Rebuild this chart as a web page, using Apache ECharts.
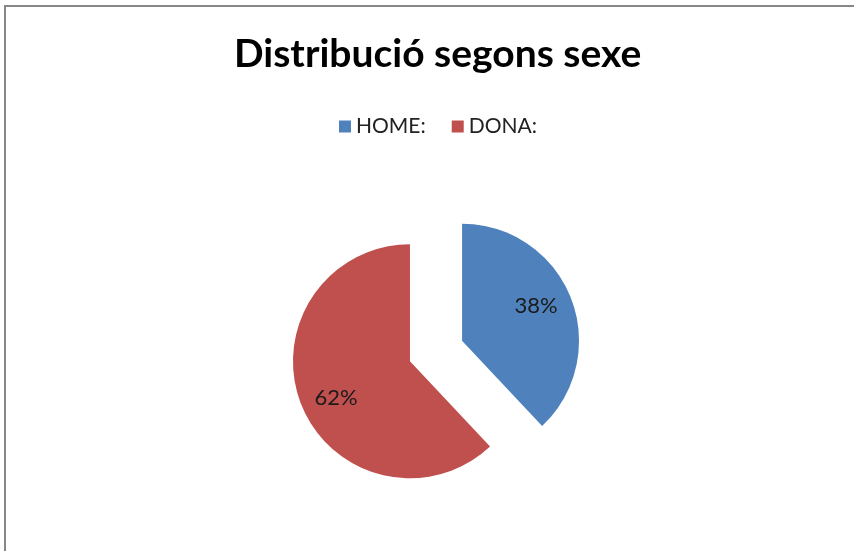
<!DOCTYPE html>
<html>
<head>
<meta charset="utf-8">
<script src="https://cdn.jsdelivr.net/npm/echarts@6/dist/echarts.min.js"></script>
<style>
html,body{margin:0;padding:0;background:#fff;}
#main{width:854px;height:551px;}
</style>
</head>
<body>
<div id="main"></div>
<script>
const titleText = 'Distribució segons sexe';
const categories = ['HOME:', 'DONA:'];
const values = [38, 62];
const colors = ['#4F81BD', '#C0504D'];

const chart = echarts.init(document.getElementById('main'), null, {renderer: 'canvas'});

const pieData = categories.map((name, i) => ({
  name: name,
  value: values[i],
  selected: true,
  itemStyle: {color: colors[i]}
}));

const labelData = categories.map((name, i) => ({
  name: name,
  value: values[i]
}));

chart.setOption({
  animation: false,
  backgroundColor: '#ffffff',
  title: {
    text: titleText,
    left: 234,
    top: 35,
    padding: 0,
    textStyle: {
      fontFamily: 'Lato',
      fontWeight: 'bold',
      fontSize: 39,
      color: '#000000'
    }
  },
  legend: {
    data: categories,
    top: 116,
    left: 339,
    padding: 0,
    icon: 'rect',
    itemWidth: 12,
    itemHeight: 12,
    itemGap: 26,
    selectedMode: false,
    textStyle: {
      fontFamily: 'Lato',
      fontSize: 21,
      color: '#222222'
    }
  },
  graphic: [{
    type: 'rect',
    shape: {x: 5, y: 6, width: 900, height: 600},
    style: {fill: 'none', stroke: '#878787', lineWidth: 2},
    silent: true,
    z: 100
  }],
  series: [
    {
      type: 'pie',
      center: [436, 351],
      radius: [0, 117],
      startAngle: 90,
      clockwise: true,
      selectedMode: 'multiple',
      selectedOffset: 28,
      data: pieData,
      label: {show: false},
      labelLine: {show: false},
      emphasis: {disabled: true},
      select: {itemStyle: {borderWidth: 0}},
      silent: true
    },
    {
      type: 'pie',
      center: [436, 352],
      radius: [76, 138],
      startAngle: 93,
      clockwise: true,
      data: labelData,
      itemStyle: {color: 'rgba(0,0,0,0)'},
      label: {
        show: true,
        position: 'inside',
        formatter: '{d}%',
        fontFamily: 'Lato',
        fontSize: 22,
        color: '#1a1a1a'
      },
      labelLine: {show: false},
      emphasis: {disabled: true},
      silent: true,
      z: 5
    }
  ]
});
</script>
</body>
</html>
